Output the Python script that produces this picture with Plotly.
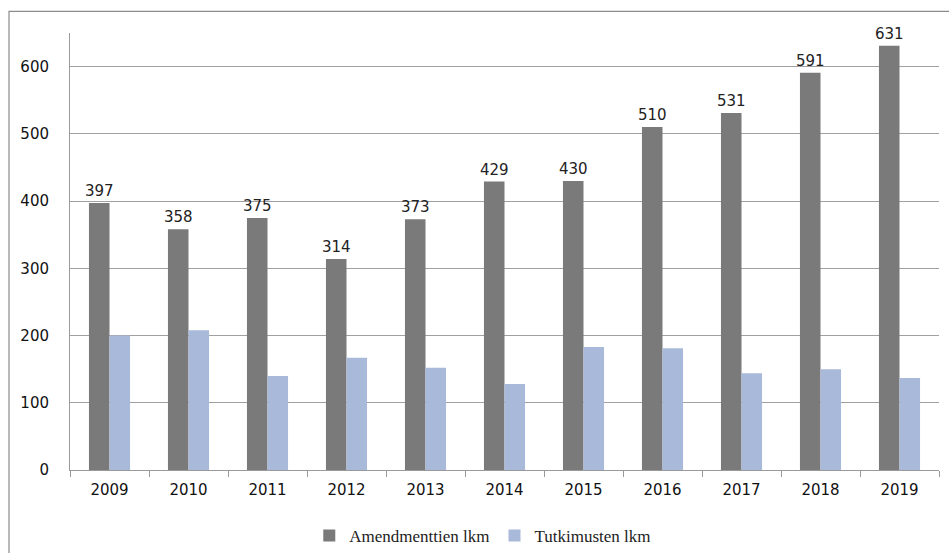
import plotly.graph_objects as go

years = ["2009", "2010", "2011", "2012", "2013", "2014", "2015", "2016", "2017", "2018", "2019"]
amendments = [397, 358, 375, 314, 373, 429, 430, 510, 531, 591, 631]
studies = [200, 208, 140, 167, 152, 128, 183, 181, 144, 150, 137]

series_names = ["Amendmenttien lkm", "Tutkimusten lkm"]
y_ticks = [0, 100, 200, 300, 400, 500, 600]

fig = go.Figure()
fig.add_trace(go.Bar(
    x=years, y=amendments, name=series_names[0],
    marker=dict(color="#7a7a7a", line=dict(width=0)),
    text=[str(v) for v in amendments], textposition="outside",
    constraintext="none",
    textfont=dict(family="DejaVu Sans", size=15, color="#222222"),
    cliponaxis=False,
))
fig.add_trace(go.Bar(
    x=years, y=studies, name=series_names[1],
    marker=dict(color="#a9b9d9", line=dict(width=0)),
))

fig.update_layout(
    width=949, height=553,
    margin=dict(l=70, r=10, t=33, b=83, autoexpand=False),
    paper_bgcolor="white", plot_bgcolor="white",
    barmode="group", bargap=0.48, bargroupgap=0,
    font=dict(family="DejaVu Sans", size=15, color="#111111"),
    showlegend=True,
    legend=dict(
        orientation="h", x=0.475, xanchor="center", y=-0.11, yanchor="top",
        font=dict(family="Liberation Serif", size=17, color="#222222"),
        itemwidth=30, traceorder="normal",
    ),
    shapes=[dict(
        type="rect", xref="paper", yref="paper",
        x0=(9 - 70) / 869, x1=1.03, y0=-0.3, y1=(470 - 11) / 437.4,
        line=dict(color="#8c8c8c", width=1.2), fillcolor="rgba(0,0,0,0)",
        layer="below",
    )],
)

fig.update_xaxes(
    type="category", showline=True, linecolor="#9a9a9a", linewidth=1,
    ticks="outside", ticklen=6, tickcolor="#9a9a9a", tickson="boundaries",
    ticklabelstandoff=6,
    showgrid=False, tickfont=dict(family="DejaVu Sans", size=15, color="#111111"),
)
fig.update_yaxes(
    range=[0, 650], tickvals=y_ticks, showline=True, linecolor="#9a9a9a",
    linewidth=1, showgrid=True, gridcolor="#a0a0a0", gridwidth=1,
    zeroline=False, ticks="", ticklabelstandoff=17,
    tickfont=dict(family="DejaVu Sans", size=15, color="#111111"),
)

fig.write_html("out.html")
